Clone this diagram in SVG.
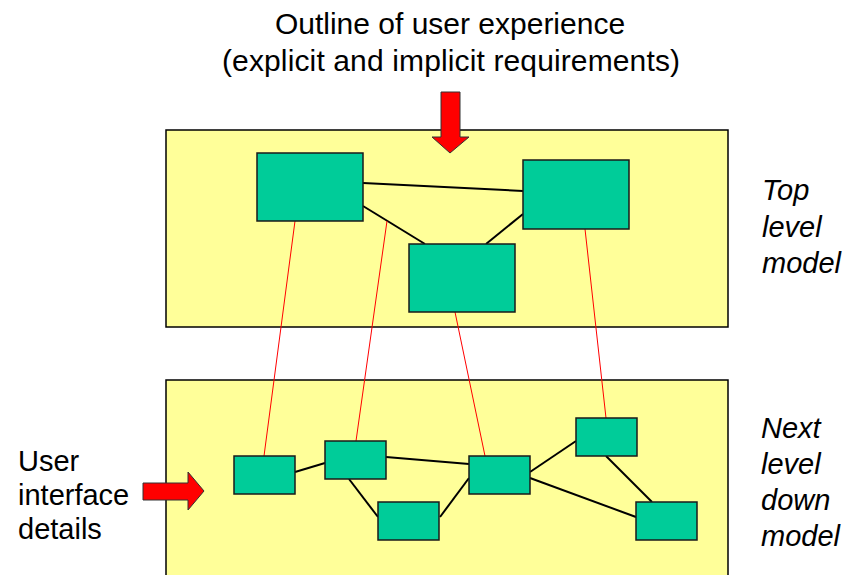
<svg xmlns="http://www.w3.org/2000/svg" width="845" height="575" viewBox="0 0 845 575">
  <style>
    .panel { fill: #FFFF99; stroke: #000; stroke-width: 1.5; }
    .node { fill: #00CC99; stroke: #1a1a1a; stroke-width: 1.5; }
    .link { stroke: #000; stroke-width: 2; fill: none; }
    .trace { stroke: #FF0000; stroke-width: 1; fill: none; }
    .arrow { fill: #FF0000; stroke: #333; stroke-width: 1; }
    .label { font-family: "Liberation Sans", Arial, sans-serif; font-size: 29px; fill: #000; }
    .title { font-size: 30px; text-anchor: middle; }
    .side { font-style: italic; }
  </style>

  <!-- title -->
  <g id="title">
    <text class="label title" x="450" y="34">Outline of user experience</text>
    <text class="label title" x="451" y="71" textLength="458" lengthAdjust="spacing">(explicit and implicit requirements)</text>
  </g>

  <!-- panels -->
  <g id="top-panel">
    <rect class="panel" x="166" y="130" width="562" height="197"/>
  </g>
  <g id="bottom-panel">
    <rect class="panel" x="166" y="380" width="562" height="200"/>
  </g>

  <!-- input arrows -->
  <g id="top-arrow">
    <polygon class="arrow" points="441,92 460,92 460,137 469,137 450,153 432,137 441,137"/>
  </g>
  <g id="left-arrow">
    <polygon class="arrow" points="143,483 188,483 188,472 204,491 188,510 188,500 143,500"/>
  </g>

  <!-- connectors -->
  <g id="connectors">
    <!-- top level links -->
    <line class="link" x1="363" y1="183" x2="523" y2="191"/>
    <line class="link" x1="363" y1="206" x2="425" y2="244"/>
    <line class="link" x1="523" y1="214" x2="486" y2="244"/>
    <!-- next level links -->
    <line class="link" x1="295" y1="472" x2="325" y2="463"/>
    <line class="link" x1="386" y1="457" x2="469" y2="464"/>
    <line class="link" x1="349" y1="479" x2="378" y2="517"/>
    <line class="link" x1="440" y1="517" x2="469" y2="478"/>
    <line class="link" x1="530" y1="472" x2="576" y2="441"/>
    <line class="link" x1="530" y1="478" x2="636" y2="517"/>
    <line class="link" x1="606" y1="456" x2="652" y2="502"/>
    <!-- refinement traces between levels -->
    <line class="trace" x1="295" y1="221" x2="264" y2="456"/>
    <line class="trace" x1="387" y1="221" x2="356" y2="441"/>
    <line class="trace" x1="455" y1="312" x2="485" y2="456"/>
    <line class="trace" x1="585" y1="229" x2="606" y2="418"/>
  </g>

  <!-- top level nodes -->
  <g id="top-a"><rect class="node" x="257" y="153" width="106" height="68"/></g>
  <g id="top-b"><rect class="node" x="523" y="160" width="106" height="69"/></g>
  <g id="top-c"><rect class="node" x="409" y="244" width="106" height="68"/></g>

  <!-- next level nodes -->
  <g id="sub-1"><rect class="node" x="234" y="456" width="61" height="38"/></g>
  <g id="sub-2"><rect class="node" x="325" y="441" width="61" height="38"/></g>
  <g id="sub-3"><rect class="node" x="469" y="456" width="61" height="38"/></g>
  <g id="sub-4"><rect class="node" x="576" y="418" width="61" height="38"/></g>
  <g id="sub-5"><rect class="node" x="378" y="502" width="61" height="38"/></g>
  <g id="sub-6"><rect class="node" x="636" y="502" width="61" height="38"/></g>

  <!-- side labels -->
  <g id="label-top">
    <text class="label side" x="762" y="200">Top</text>
    <text class="label side" x="762" y="237">level</text>
    <text class="label side" x="762" y="273">model</text>
  </g>
  <g id="label-next">
    <text class="label side" x="761" y="438">Next</text>
    <text class="label side" x="761" y="474">level</text>
    <text class="label side" x="761" y="510">down</text>
    <text class="label side" x="761" y="546">model</text>
  </g>
  <g id="label-ui">
    <text class="label" x="18" y="471">User</text>
    <text class="label" x="18" y="505">interface</text>
    <text class="label" x="18" y="539">details</text>
  </g>
</svg>
